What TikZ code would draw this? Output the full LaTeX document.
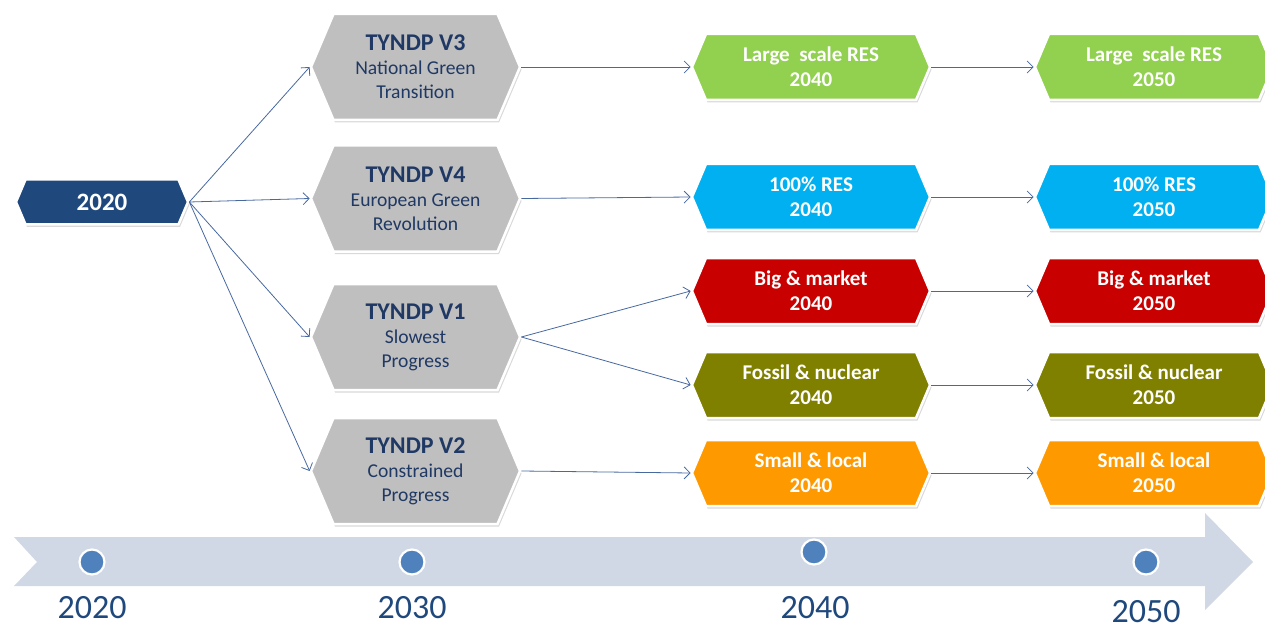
\documentclass[tikz,border=0pt]{standalone}
\usepackage{fontspec}
\setmainfont{Carlito}
\usetikzlibrary{shapes.symbols,shadows,arrows.meta}

\definecolor{navyfill}{RGB}{31,73,125}
\definecolor{navytext}{RGB}{31,56,100}
\definecolor{scengrey}{RGB}{191,191,191}
\definecolor{resgreen}{RGB}{146,208,80}
\definecolor{rescyan}{RGB}{0,176,240}
\definecolor{bigred}{RGB}{200,0,0}
\definecolor{fossilolive}{RGB}{128,128,0}
\definecolor{localorange}{RGB}{255,153,0}
\definecolor{bandgrey}{RGB}{208,216,230}
\definecolor{dotblue}{RGB}{79,129,189}
\definecolor{yearblue}{RGB}{31,73,125}
\definecolor{linkblue}{RGB}{72,104,160}

\newcommand{\scenhead}[1]{{\fontsize{24}{25}\selectfont\bfseries #1}}

\begin{document}
\begin{tikzpicture}[x=1pt,y=-1pt,
  hexa/.style={shape=signal, signal to=east and west, signal pointer angle=134,
    draw=white, line width=2.5pt, inner sep=0pt, align=center, text=white,
    drop shadow={shadow xshift=1.5pt, shadow yshift=-2.5pt, opacity=0.3}},
  startbox/.style={hexa, fill=navyfill, minimum width=172pt, minimum height=45pt,
    font=\fontsize{25}{26}\selectfont\bfseries},
  scenbox/.style={hexa, fill=scengrey, minimum width=209pt, minimum height=106pt,
    text=navytext, font=\fontsize{19.6}{24}\selectfont},
  outbox/.style={hexa, minimum width=238pt, minimum height=66pt,
    font=\fontsize{21}{25}\selectfont\bfseries},
  link/.style={draw=linkblue, line width=0.8pt, -{Straight Barb[length=6pt,width=12pt]}},
  dot/.style={circle, fill=dotblue, draw=white, line width=2.2pt, minimum size=25pt, inner sep=0pt},
  yearlabel/.style={anchor=base, text=yearblue, font=\fontsize{34}{34}\selectfont}
]
\useasboundingbox (0,0) rectangle (1265,628);

% time axis band with notched tail and arrow head
\fill[bandgrey] (14,537) -- (1205,537) -- (1205,513) -- (1253,562) -- (1205,610)
  -- (1205,586) -- (14,586) -- (37,562) -- cycle;

% milestones on the axis
\node[dot] (d2020) at (92,562) {};
\node[dot] (d2030) at (412,562) {};
\node[dot] (d2040) at (814,552) {};
\node[dot] (d2050) at (1146,562) {};
\node[yearlabel] (y2020) at (92,618) {2020};
\node[yearlabel] (y2030) at (412,618) {2030};
\node[yearlabel] (y2040) at (815,618) {2040};
\node[yearlabel] (y2050) at (1146,622) {2050};

% starting point
\node[startbox] (n2020) at (102,202) {2020};

% TYNDP scenarios
\node[scenbox] (v3) at (415.5,67) {\scenhead{TYNDP V3}\\National Green\\Transition};
\node[scenbox] (v4) at (415.5,198.5) {\scenhead{TYNDP V4}\\European Green\\Revolution};
\node[scenbox] (v1) at (415.5,337) {\scenhead{TYNDP V1}\\Slowest\\Progress};
\node[scenbox] (v2) at (415.5,471) {\scenhead{TYNDP V2}\\Constrained\\Progress};

% 2040 outcomes
\node[outbox, fill=resgreen] (a40) at (811,67) {Large\ \ scale RES\\2040};
\node[outbox, fill=rescyan] (b40) at (811,197) {100\% RES\\2040};
\node[outbox, fill=bigred] (c40) at (811,291) {Big \& market\\2040};
\node[outbox, fill=fossilolive] (d40) at (811,385) {Fossil \& nuclear\\2040};
\node[outbox, fill=localorange] (e40) at (811,473) {Small \& local\\2040};

% 2050 outcomes
\node[outbox, fill=resgreen] (a50) at (1154,67) {Large\ \ scale RES\\2050};
\node[outbox, fill=rescyan] (b50) at (1154,197) {100\% RES\\2050};
\node[outbox, fill=bigred] (c50) at (1154,291) {Big \& market\\2050};
\node[outbox, fill=fossilolive] (d50) at (1154,385) {Fossil \& nuclear\\2050};
\node[outbox, fill=localorange] (e50) at (1154,473) {Small \& local\\2050};

% connectors
\foreach \s in {v3,v4,v1,v2} \draw[link] (n2020.east) -- (\s.west);
\draw[link] (v3.east) -- (a40.west);
\draw[link] (v4.east) -- (b40.west);
\draw[link] (v1.east) -- (c40.west);
\draw[link] (v1.east) -- (d40.west);
\draw[link] (v2.east) -- (e40.west);
\draw[link] (a40.east) -- (a50.west);
\draw[link] (b40.east) -- (b50.west);
\draw[link] (c40.east) -- (c50.west);
\draw[link] (d40.east) -- (d50.west);
\draw[link] (e40.east) -- (e50.west);
\end{tikzpicture}
\end{document}
